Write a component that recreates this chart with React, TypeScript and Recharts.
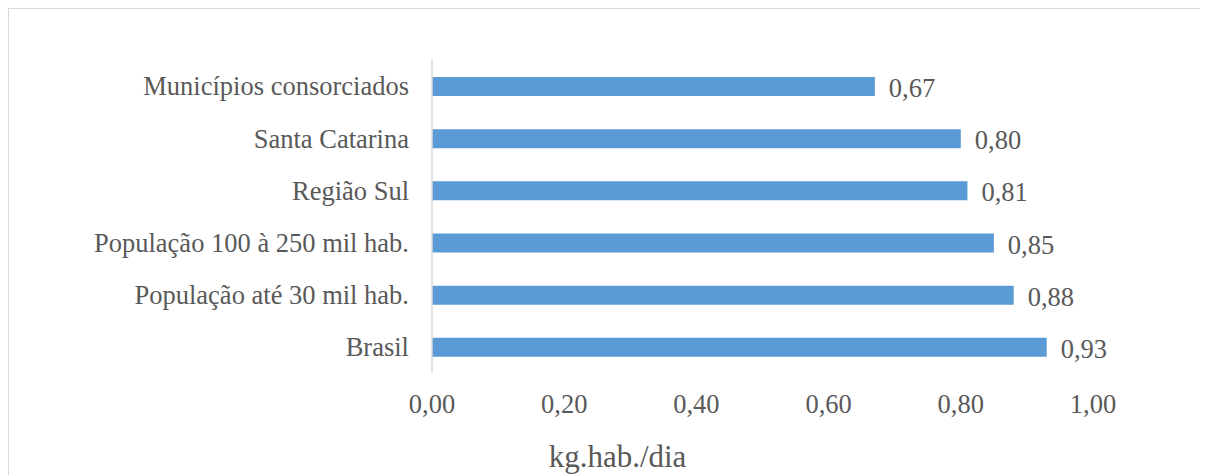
import { BarChart, Bar, XAxis, YAxis, LabelList, Label } from 'recharts';

const categories = [
  'Municípios consorciados',
  'Santa Catarina',
  'Região Sul',
  'População 100 à 250 mil hab.',
  'População até 30 mil hab.',
  'Brasil',
];
const values = [0.67, 0.8, 0.81, 0.85, 0.88, 0.93];
const xTicks = [0, 0.2, 0.4, 0.6, 0.8, 1.0];

const data = categories.map((name, i) => ({ name, value: values[i] }));

const fmt = (v: number) => v.toFixed(2).replace('.', ',');
const FONT = 'Times New Roman, Liberation Serif, serif';
const TEXT = '#595959';
const SIZE = 26.5;

const YTick = (props: any) => {
  const { x, y, payload } = props;
  return (
    <text x={x} y={y} dy="0.355em" textAnchor="end" fill={TEXT} fontSize={SIZE} fontFamily={FONT}>
      {payload.value}
    </text>
  );
};

const XTick = (props: any) => {
  const { x, y, payload } = props;
  return (
    <text x={x} y={y} dy="0.71em" textAnchor="middle" fill={TEXT} fontSize={SIZE} fontFamily={FONT}>
      {fmt(Number(payload.value))}
    </text>
  );
};

const ValueLabel = (props: any) => {
  const { x, y, width, height, value } = props;
  return (
    <text
      x={Number(x) + Number(width) + 14}
      y={Number(y) + Number(height) / 2}
      dy="0.4em"
      textAnchor="start"
      fill={TEXT}
      fontSize={SIZE}
      fontFamily={FONT}
    >
      {fmt(Number(value))}
    </text>
  );
};

const AxisTitle = (props: any) => {
  const vb = props.viewBox || {};
  return (
    <text
      x={vb.x + vb.width / 2 - 145}
      y={vb.y + vb.height - 6}
      textAnchor="middle"
      fill={TEXT}
      fontSize={31}
      fontFamily={FONT}
    >
      kg.hab./dia
    </text>
  );
};

export default function App() {
  return (
    <div
      style={{
        width: 1199,
        height: 466,
        borderTop: '1px solid #d9d9d9',
        borderLeft: '1px solid #d9d9d9',
        fontFamily: FONT,
      }}
    >
      <BarChart
        width={1199}
        height={466}
        data={data}
        layout="vertical"
        margin={{ top: 51, right: 115, left: 0, bottom: 2 }}
      >
        <XAxis
          type="number"
          domain={[0, 1]}
          ticks={xTicks}
          axisLine={false}
          tickLine={false}
          tickSize={0}
          tickMargin={21}
          height={100}
          tick={<XTick />}
        >
          <Label content={<AxisTitle />} />
        </XAxis>
        <YAxis
          type="category"
          dataKey="name"
          width={423}
          axisLine={{ stroke: '#d9d9d9', strokeWidth: 1.5 }}
          tickLine={false}
          tickSize={0}
          tickMargin={23}
          interval={0}
          tick={<YTick />}
        />
        <Bar dataKey="value" fill="#5B9BD5" barSize={19} isAnimationActive={false}>
          <LabelList dataKey="value" content={<ValueLabel />} />
        </Bar>
      </BarChart>
    </div>
  );
}
